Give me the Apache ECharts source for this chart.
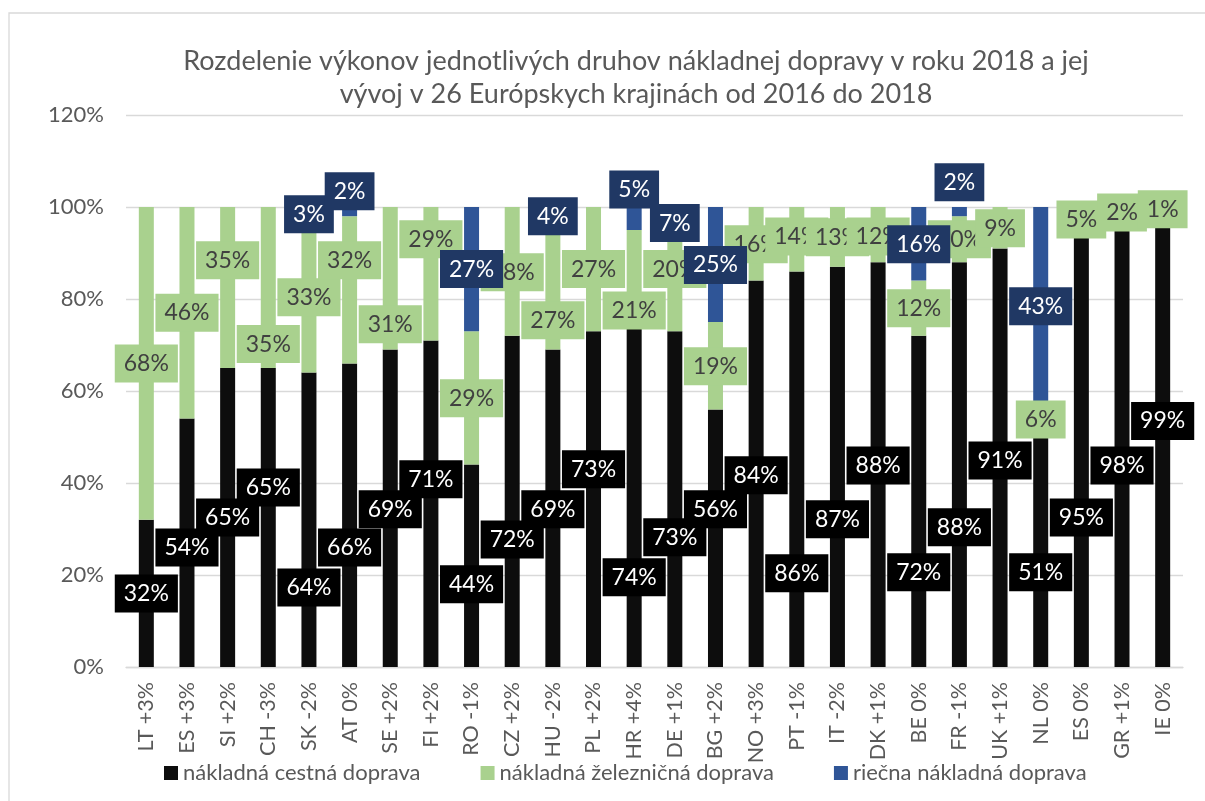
<!DOCTYPE html>
<html>
<head>
<meta charset="utf-8">
<title>Rozdelenie výkonov nákladnej dopravy</title>
<script src="https://cdn.jsdelivr.net/npm/echarts@6.0.0/dist/echarts.min.js"></script>
<style>
    html, body { margin: 0; padding: 0; background: #fff; }
    #main { width: 1205px; height: 801px; }
</style>
</head>
<body>
<div id="main"></div>
<script>
// krajiny + zmena podielu cestnej dopravy 2016 -> 2018
var countries = ['LT +3%', 'ES +3%', 'SI +2%', 'CH -3%', 'SK -2%', 'AT 0%', 'SE +2%', 'FI +2%', 'RO -1%',
    'CZ +2%', 'HU -2%', 'PL +2%', 'HR +4%', 'DE +1%', 'BG +2%', 'NO +3%', 'PT -1%', 'IT -2%', 'DK +1%',
    'BE 0%', 'FR -1%', 'UK +1%', 'NL 0%', 'ES 0%', 'GR +1%', 'IE 0%'];

// podiely v %
var road  = [32, 54, 65, 65, 64, 66, 69, 71, 44, 72, 69, 73, 74, 73, 56, 84, 86, 87, 88, 72, 88, 91, 51, 95, 98, 99];
var rail  = [68, 46, 35, 35, 33, 32, 31, 29, 29, 28, 27, 27, 21, 20, 19, 16, 14, 13, 12, 12, 10,  9,  6,  5,  2,  1];
var river = [ 0,  0,  0,  0,  3,  2,  0,  0, 27,  0,  4,  0,  5,  7, 25,  0,  0,  0,  0, 16,  2,  0, 43,  0,  0,  0];

// kde stoja popisky (v % osi), v grafe su rucne posunute
var roadLabelAt  = [16, 26, 32.5, 39, 17.3, 26, 34.3, 40.8, 18, 27.7, 34.3, 43, 19.5, 28.2, 34.3, 41.7,
    20.4, 32.1, 43.8, 20.6, 30.4, 44.9, 20.6, 32.5, 43.8, 53.5];
var railLabelAt  = [66, 77, 88.4, 70.2, 80.4, 88.4, 74.5, 93, 58.4, 85.8, 75.4, 86.5, 77.5, 86.5, 65.4, 91.9,
    93.6, 93.4, 93.6, 78, 93, 95.4, 53.8, 97.3, 98.8, 99.5];
var riverLabelAt = [0, 0, 0, 0, 98.4, 103.4, 0, 0, 86.5, 0, 98, 0, 103.8, 96.5, 87.4, 0,
    0, 0, 0, 91.9, 105.4, 0, 78.4, 0, 0, 0];

var seriesNames = ['nákladná cestná doprava', 'nákladná železničná doprava', 'riečna nákladná doprava'];
var yMax = 120, yStep = 20;

var font = 'Lato, "Open Sans", sans-serif';
var grey = '#595959';

var myChart = echarts.init(document.getElementById('main'));

function labelStyle(bg, fg) {
    return {
        show: true,
        position: 'inside',
        formatter: '{c}%',
        fontFamily: font,
        fontSize: 23,
        color: fg,
        backgroundColor: bg,
        padding: [8, 9, 7, 9]
    };
}

myChart.setOption({
    animation: false,
    textStyle: { fontFamily: font },
    title: {
        text: 'Rozdelenie výkonov jednotlivých druhov nákladnej dopravy v roku 2018 a jej\nvývoj v 26 Európskych krajinách od 2016 do 2018',
        left: 636,
        top: 45,
        padding: 0,
        textAlign: 'center',
        textStyle: {
            fontFamily: font,
            fontSize: 27,
            fontWeight: 'normal',
            color: grey,
            lineHeight: 33
        }
    },
    graphic: [{
        type: 'rect',
        silent: true,
        shape: { x: 9, y: 13, width: 1220, height: 800 },
        style: { fill: 'none', stroke: '#d9d9d9', lineWidth: 1.3 }
    }],
    legend: {
        left: 159,
        top: 757,
        itemWidth: 14,
        itemHeight: 14,
        itemGap: 60,
        icon: 'rect',
        textStyle: { fontFamily: font, fontSize: 22, color: grey },
        data: seriesNames
    },
    grid: {
        left: 126,
        right: 22,
        top: 115,
        bottom: 134,
        outerBoundsMode: 'none'
    },
    xAxis: {
        type: 'category',
        data: countries,
        axisTick: { show: false },
        axisLine: { lineStyle: { color: '#d9d9d9', width: 1.3 } },
        axisLabel: {
            rotate: 90,
            interval: 0,
            margin: 15,
            fontFamily: font,
            fontSize: 21.5,
            color: grey
        }
    },
    yAxis: {
        type: 'value',
        min: 0,
        max: yMax,
        interval: yStep,
        axisLine: { show: false },
        axisTick: { show: false },
        splitLine: { lineStyle: { color: '#d9d9d9', width: 1.3 } },
        axisLabel: {
            formatter: '{value}%',
            margin: 22,
            fontFamily: font,
            fontSize: 22,
            color: grey
        }
    },
    series: [{
        name: seriesNames[0],
        type: 'bar',
        stack: 'spolu',
        barWidth: 15,
        itemStyle: { color: '#0d0d0d' },
        label: labelStyle('#000000', '#ffffff'),
        data: road
    }, {
        name: seriesNames[1],
        type: 'bar',
        stack: 'spolu',
        barWidth: 15,
        itemStyle: { color: '#a9d18e' },
        label: labelStyle('#a9d18e', '#404040'),
        data: rail
    }, {
        name: seriesNames[2],
        type: 'bar',
        stack: 'spolu',
        barWidth: 15,
        itemStyle: { color: '#2f5597' },
        label: labelStyle('#203864', '#ffffff'),
        data: river
    }]
});

// posun popiskov podla predlohy
var pxPer = (myChart.convertToPixel({ yAxisIndex: 0 }, 0) - myChart.convertToPixel({ yAxisIndex: 0 }, 100)) / 100;

function withOffsets(values, below, labelAt) {
    return values.map(function (v, i) {
        if (!v) {
            return { value: v, label: { show: false } };
        }
        var mid = below[i] + v / 2;
        return { value: v, label: { offset: [0, (mid - labelAt[i]) * pxPer] } };
    });
}

var zero = road.map(function () { return 0; });
var roadRail = road.map(function (v, i) { return v + rail[i]; });

myChart.setOption({
    series: [
        { data: withOffsets(road, zero, roadLabelAt) },
        { data: withOffsets(rail, road, railLabelAt) },
        { data: withOffsets(river, roadRail, riverLabelAt) }
    ]
});
</script>
</body>
</html>
